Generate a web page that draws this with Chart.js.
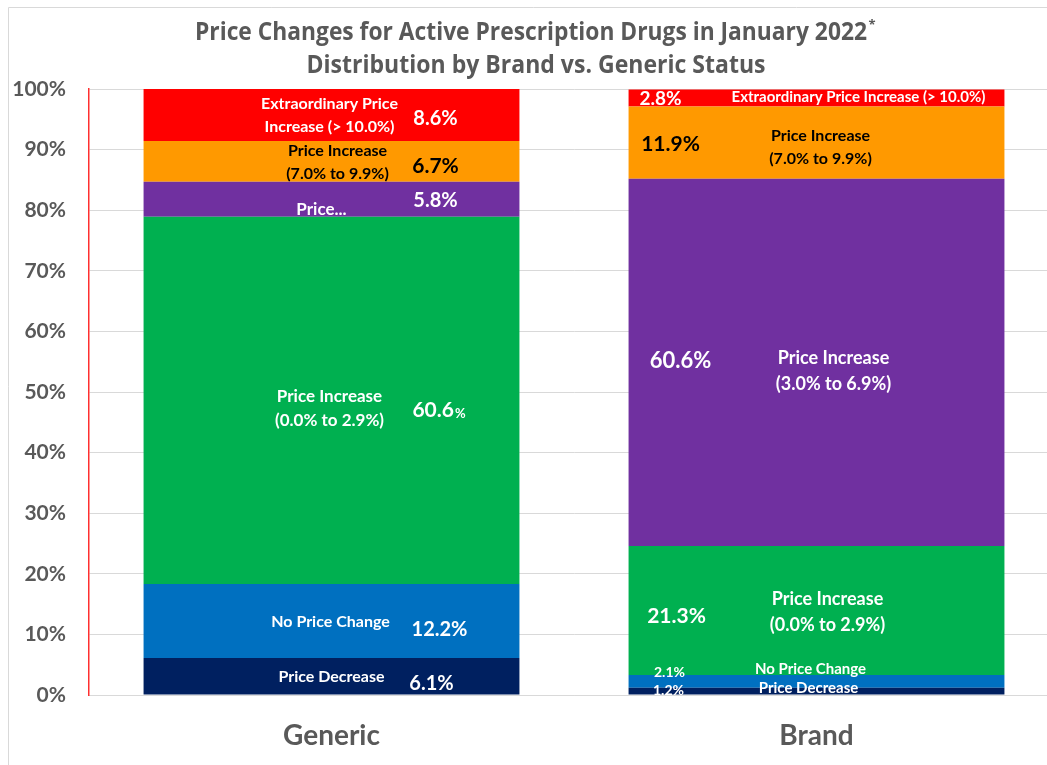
<!DOCTYPE html>
<html>
<head>
<meta charset="utf-8">
<script src="https://cdn.jsdelivr.net/npm/chart.js@4.4.0/dist/chart.umd.min.js"></script>
<style>
  html, body { margin: 0; padding: 0; overflow: hidden; background: #fff; }
  canvas { display: block; }
</style>
</head>
<body>
<canvas id="myChart" width="1059" height="765"></canvas>
<script>
// data
const categories = ['Generic', 'Brand'];
const priceDecrease = [6.1, 1.2];
const noPriceChange = [12.2, 2.1];
const increase0to29 = [60.6, 21.3];
const increase3to69 = [5.8, 60.6];
const increase7to99 = [6.7, 11.9];
const extraordinary = [8.6, 2.8];
const yTicks = [0, 10, 20, 30, 40, 50, 60, 70, 80, 90, 100];

const FONT = "Lato, 'Open Sans', sans-serif";
const TITLE_FONT = "'Open Sans', Lato, sans-serif";
const GRAY = '#595959';

// segment labels: [datasetIndex][categoryIndex]
// nx/ny = offset of name from bar centre / segment centre, vx/vy same for the value
const segLabels = [
  [ {name: ['Price Decrease'], nx: 0, ny: 1, vx: 100, vy: 7, ns: 16, vs: 20, c: '#fff'},
    {name: ['Price Decrease'], nx: -8, ny: -3, vx: -148, vy: -1, ns: 15, vs: 14, c: '#fff'} ],
  [ {name: ['No Price Change'], nx: -1, ny: 1, vx: 108, vy: 8, ns: 16, vs: 20, c: '#fff'},
    {name: ['No Price Change'], nx: -6, ny: -12, vx: -147, vy: -9, ns: 15, vs: 14, c: '#fff'} ],
  [ {name: ['Price Increase', '(0.0% to 2.9%)'], nx: -2, ny: 8, vx: 107, vy: 10, ns: 17, vs: 21, c: '#fff', smallPct: true},
    {name: ['Price Increase', '(0.0% to 2.9%)'], nx: 11, ny: 2, vx: -140, vy: 6, ns: 18, vs: 21, c: '#fff'} ],
  [ {name: ['Price...'], nx: -10, ny: 10, vx: 104, vy: 1, ns: 17, vs: 20, c: '#fff'},
    {name: ['Price Increase', '(3.0% to 6.9%)'], nx: 17, ny: 9, vx: -136, vy: -1, ns: 18, vs: 22, c: '#fff'} ],
  [ {name: ['Price Increase', '(7.0% to 9.9%)'], nx: 6, ny: 1, vx: 104, vy: 5, ns: 16, vs: 21, c: '#000'},
    {name: ['Price Increase', '(7.0% to 9.9%)'], nx: 4, ny: 5, vx: -146, vy: 2, ns: 16, vs: 21, c: '#000'} ],
  [ {name: ['Extraordinary Price', 'Increase (> 10.0%)'], nx: -2, ny: 0, vx: 104, vy: 3, ns: 16, vs: 20, c: '#fff'},
    {name: ['Extraordinary Price Increase (> 10.0%)'], nx: 42, ny: -1, vx: -156, vy: 1, ns: 15, vs: 19, c: '#fff'} ]
];

const segmentLabelPlugin = {
  id: 'segmentLabels',
  afterDatasetsDraw(chart) {
    const ctx = chart.ctx;
    ctx.save();
    ctx.textAlign = 'center';
    ctx.textBaseline = 'middle';
    chart.data.datasets.forEach((ds, di) => {
      const meta = chart.getDatasetMeta(di);
      meta.data.forEach((bar, ci) => {
        const lab = segLabels[di][ci];
        const cy = (bar.y + bar.base) / 2;
        ctx.fillStyle = lab.c;
        ctx.font = 'bold ' + lab.ns + 'px ' + FONT;
        const lh = lab.ns * 1.45;
        const y0 = cy + lab.ny - (lab.name.length - 1) * lh / 2;
        lab.name.forEach((line, li) => ctx.fillText(line, bar.x + lab.nx, y0 + li * lh));
        const val = ds.data[ci].toFixed(1);
        if (lab.smallPct) {
          ctx.font = 'bold ' + lab.vs + 'px ' + FONT;
          const w1 = ctx.measureText(val).width;
          ctx.font = 'bold ' + Math.round(lab.vs * 0.6) + 'px ' + FONT;
          const w2 = ctx.measureText('%').width;
          const left = bar.x + lab.vx - (w1 + w2) / 2;
          ctx.textAlign = 'left';
          ctx.font = 'bold ' + lab.vs + 'px ' + FONT;
          ctx.fillText(val, left, cy + lab.vy);
          ctx.font = 'bold ' + Math.round(lab.vs * 0.6) + 'px ' + FONT;
          ctx.fillText('%', left + w1 + 1, cy + lab.vy + 3);
          ctx.textAlign = 'center';
        } else {
          ctx.font = 'bold ' + lab.vs + 'px ' + FONT;
          ctx.fillText(val + '%', bar.x + lab.vx, cy + lab.vy);
        }
      });
    });
    ctx.restore();
  }
};

// draw a line of title text squeezed to a given width (the original uses a condensed face)
function narrowText(ctx, text, cx, cy, width) {
  const w = ctx.measureText(text).width;
  const sx = width / w;
  ctx.save();
  ctx.translate(cx, cy);
  ctx.scale(sx, 1);
  ctx.fillText(text, 0, 0);
  ctx.restore();
}

const frameTitlePlugin = {
  id: 'frameTitle',
  beforeDraw(chart) {
    const ctx = chart.ctx;
    ctx.save();
    ctx.strokeStyle = '#d9d9d9';
    ctx.lineWidth = 1;
    ctx.beginPath();
    ctx.moveTo(8.5, 765);
    ctx.lineTo(8.5, 7.5);
    ctx.lineTo(1059, 7.5);
    ctx.stroke();
    ctx.restore();
  },
  afterDraw(chart) {
    const ctx = chart.ctx;
    ctx.save();
    ctx.fillStyle = GRAY;
    ctx.textBaseline = 'middle';
    ctx.textAlign = 'center';
    ctx.font = 'bold 25px ' + TITLE_FONT;
    narrowText(ctx, 'Price Changes for Active Prescription Drugs in January 2022', 531, 33, 672);
    ctx.font = 'bold 13px ' + TITLE_FONT;
    ctx.fillText('*', 872, 25);
    ctx.font = 'bold 25px ' + TITLE_FONT;
    narrowText(ctx, 'Distribution by Brand vs. Generic Status', 536, 66, 459);
    ctx.restore();
  }
};

const colors = ['#002060', '#0070C0', '#00B050', '#7030A0', '#FF9900', '#FF0000'];
const seriesValues = [priceDecrease, noPriceChange, increase0to29, increase3to69, increase7to99, extraordinary];
const seriesNames = ['Price Decrease', 'No Price Change', 'Price Increase (0.0% to 2.9%)',
  'Price Increase (3.0% to 6.9%)', 'Price Increase (7.0% to 9.9%)', 'Extraordinary Price Increase (> 10.0%)'];

new Chart(document.getElementById('myChart'), {
  type: 'bar',
  data: {
    labels: categories,
    datasets: seriesValues.map((vals, i) => ({
      label: seriesNames[i],
      data: vals,
      backgroundColor: colors[i],
      borderWidth: 0,
      categoryPercentage: 1,
      barPercentage: 0.775
    }))
  },
  options: {
    responsive: false,
    animation: false,
    layout: { padding: { top: 89, left: 0, right: 0, bottom: 0 } },
    plugins: { legend: { display: false }, tooltip: { enabled: false } },
    scales: {
      x: {
        stacked: true,
        grid: { display: false },
        border: { color: '#d9d9d9' },
        ticks: { color: GRAY, font: { family: FONT, size: 28, weight: 'bold' }, padding: 16 },
        afterFit(scale) { scale.height = 70; }
      },
      y: {
        stacked: true,
        min: 0,
        max: 100,
        afterBuildTicks(scale) { scale.ticks = yTicks.map(v => ({ value: v })); },
        grid: { color: '#d9d9d9', drawTicks: false },
        border: { color: '#ff3030', width: 1.5 },
        ticks: {
          color: GRAY,
          padding: 23,
          font: { family: FONT, size: 21, weight: 'bold' },
          callback: v => v + '%'
        },
        afterFit(scale) { scale.width = 89; }
      }
    }
  },
  plugins: [frameTitlePlugin, segmentLabelPlugin]
});
</script>
</body>
</html>
